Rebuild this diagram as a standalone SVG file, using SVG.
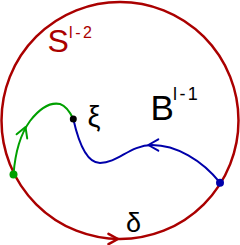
<svg xmlns="http://www.w3.org/2000/svg" width="240" height="245" viewBox="0 0 240 245">
<style>
.t{font-family:"Liberation Sans",Arial,sans-serif;}
.red{stroke:#aa0000;fill:none;stroke-width:2.5;}
.blue{stroke:#0000aa;fill:none;stroke-width:2;}
.green{stroke:#00a000;fill:none;stroke-width:2;}
.arr{stroke-linecap:round;stroke-linejoin:round;}
</style>
<rect width="240" height="245" fill="#ffffff"/>
<g id="sphere">
<circle class="red" cx="120" cy="120.5" r="118.5"/>
<text class="t" x="47.5" y="52" font-size="32" fill="#aa0000">S</text>
<text class="t" x="69" y="37.5" font-size="16" fill="#aa0000" letter-spacing="2.6">l-2</text>
</g>
<g id="connectors">
<path id="delta-arrow" class="red arr" d="M108.5,233.8 L118,239 L108.5,244.2"/>
<path id="green-path" class="green" d="M13.5,174.5 C15,155 19,136 30,121 C40,108 50,102 60,104 C66,106 70,112 73.3,119"/>
<path class="green arr" d="M16.6,134.3 L25.5,127 L27.2,138.4"/>
<path id="blue-path" class="blue" d="M73.3,119 C78,140 86,163 100,163 C118,163 130,145 152,145 C176,145 202,160 220,182.7"/>
<path class="blue arr" d="M158.3,139.3 L148.3,145 L158.3,150.7"/>
</g>
<g id="xi">
<circle cx="73.3" cy="119" r="3.5" fill="#000000"/>
<text class="t" x="87.5" y="127" font-size="29" fill="#000000">ξ</text>
</g>
<g id="green-point">
<circle cx="13.5" cy="174.5" r="4" fill="#00a000"/>
</g>
<g id="blue-point">
<circle cx="220" cy="182.7" r="4" fill="#0000aa"/>
</g>
<g id="ball">
<text class="t" x="150.5" y="120" font-size="35" fill="#000000">B</text>
<text class="t" x="173" y="100" font-size="18" fill="#000000" letter-spacing="2.4">l-1</text>
</g>
<g id="delta">
<text class="t" x="126" y="231.5" font-size="27" fill="#000000">δ</text>
</g>
</svg>
